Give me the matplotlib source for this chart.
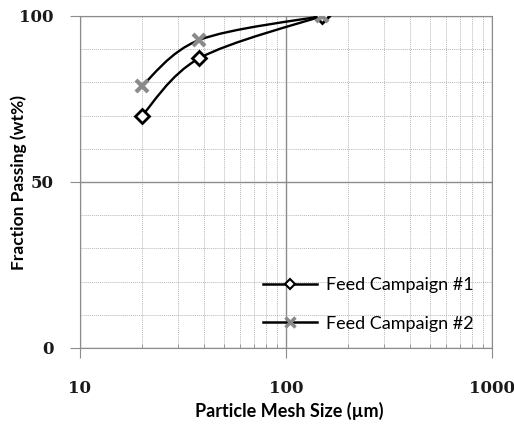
import matplotlib.pyplot as plt
import numpy as np
from matplotlib.path import Path
from matplotlib.patches import PathPatch
from matplotlib.lines import Line2D
from matplotlib.ticker import FixedLocator, NullFormatter

# mesh sizes (um) and fraction passing (wt%)
mesh_size = [20, 38, 150]
campaign1 = [70, 87.3, 100]
campaign2 = [79, 92.8, 100]
series_names = ["Feed Campaign #1", "Feed Campaign #2"]


def smooth_path(xs, ys):
    # Excel style smoothed line: bezier segments built in log-x space
    lx = np.log10(xs)
    pts = np.column_stack([lx, ys])
    n = len(pts)
    verts = [pts[0]]
    codes = [Path.MOVETO]
    for i in range(n - 1):
        p0 = pts[max(i - 1, 0)]
        p1 = pts[i]
        p2 = pts[i + 1]
        p3 = pts[min(i + 2, n - 1)]
        c1 = p1 + (p2 - p0) / 6.0
        c2 = p2 - (p3 - p1) / 6.0
        verts += [c1, c2, p2]
        codes += [Path.CURVE4] * 3
    verts = np.array(verts)
    verts[:, 0] = 10 ** verts[:, 0]
    return Path(verts, codes)


fig = plt.figure(figsize=(5.14, 4.28), dpi=100)
ax = fig.add_axes([80 / 514, 1 - 348 / 428, 412 / 514, 332 / 428])

ax.set_xscale("log")
ax.set_xlim(10, 1000)
ax.set_ylim(0, 100)

# grid
ax.set_yticks([0, 50, 100])
ax.yaxis.set_minor_locator(FixedLocator([10, 20, 30, 40, 60, 70, 80, 90]))
ax.grid(True, which="major", color="#8c8c8c", linewidth=1.0, linestyle="-")
ax.grid(True, which="minor", color="#b8b8b8", linewidth=0.7, linestyle=(0, (1, 1)))
ax.set_axisbelow(True)
ax.xaxis.set_minor_formatter(NullFormatter())
ax.set_xticks([10, 100, 1000])
ax.set_xticklabels(["10", "100", "1000"])

for s in ax.spines.values():
    s.set_color("#8c8c8c")

ax.tick_params(axis="x", which="major", direction="out", length=7, color="#8c8c8c", pad=16)
ax.tick_params(axis="x", which="minor", direction="in", length=3, color="#8c8c8c")
ax.tick_params(axis="y", which="major", direction="out", length=7, color="#8c8c8c", pad=12)
ax.tick_params(axis="y", which="minor", length=0)
for lab in ax.get_xticklabels() + ax.get_yticklabels():
    lab.set_fontfamily("DejaVu Serif")
    lab.set_fontweight("bold")
    lab.set_fontsize(12)
    lab.set_color("#1a1a1a")

# smoothed lines
for ys in (campaign1, campaign2):
    ax.add_patch(PathPatch(smooth_path(mesh_size, ys), fill=False,
                           edgecolor="black", linewidth=1.7, zorder=3))

ax.plot(mesh_size, campaign1, linestyle="none", marker="D", markersize=7,
        markerfacecolor="white", markeredgecolor="black", markeredgewidth=2, zorder=4)
ax.plot(mesh_size, campaign2, linestyle="none", marker="x", markersize=9,
        markeredgecolor="#8a8a8a", markeredgewidth=3, zorder=5)

# axis titles placed by hand
fig.text(289 / 514, 1 - 411 / 428, "Particle Mesh Size (\u00b5m)", family="Lato",
         weight="bold", size=13, ha="center", va="center")
fig.text(19 / 514, 1 - 182 / 428, "Fraction Passing (wt%)", family="Lato",
         weight="bold", size=12.5, ha="center", va="center", rotation=90)

handles = [
    Line2D([], [], color="black", linewidth=1.8, marker="D", markersize=5,
           markerfacecolor="white", markeredgecolor="black", markeredgewidth=1.5),
    Line2D([], [], color="black", linewidth=1.8, marker="x", markersize=7,
           markeredgecolor="#8a8a8a", markeredgewidth=2.5),
]
ax.legend(handles, series_names, loc="lower right", frameon=False,
          bbox_to_anchor=(0.995, 0.0), handlelength=3.0, handletextpad=0.5,
          labelspacing=1.25, prop=dict(family="Lato", size=13))

fig.savefig("out.png", dpi=100)
